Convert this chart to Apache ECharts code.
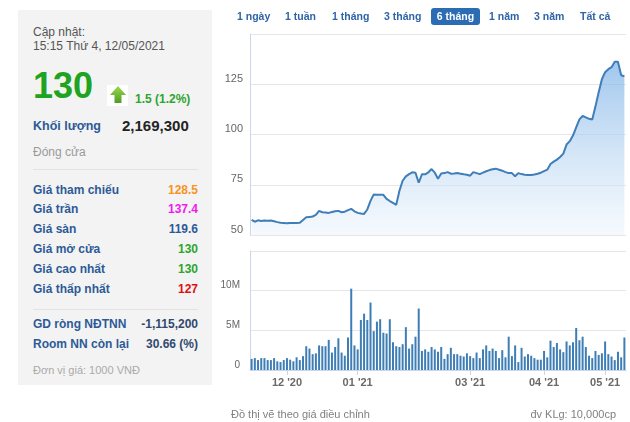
<!DOCTYPE html>
<html><head><meta charset="utf-8">
<script src="https://cdn.jsdelivr.net/npm/echarts@6/dist/echarts.min.js"></script>
<style>
body{margin:0;width:630px;height:422px;position:relative;background:#fff;font-family:Arial,"Liberation Sans",sans-serif;overflow:hidden}
#chart{position:absolute;left:0;top:0;width:630px;height:422px}
.t{position:absolute;white-space:nowrap;line-height:1}
.panel{position:absolute;left:18px;top:10px;width:194px;height:375px;background:#f3f3f3}
.lbl{position:absolute;left:33px;white-space:nowrap;line-height:1;font-size:12px;font-weight:bold;color:#2d5a97}
.val{position:absolute;right:432px;white-space:nowrap;line-height:1;font-size:12px;font-weight:bold;text-align:right}
.hr{position:absolute;left:33px;width:165px;height:1px;background:#e2e2e2}
.btn{position:absolute;top:11px;font-size:10.5px;font-weight:bold;color:#2f64a6;line-height:1;white-space:nowrap}
</style></head>
<body>
<div id="chart"></div>
<div class="panel"></div>
<div class="t" style="left:33px;top:26px;font-size:12px;color:#555">Cập nhật:</div>
<div class="t" style="left:33px;top:40px;font-size:12px;color:#555">15:15 Thứ 4, 12/05/2021</div>
<div class="t" style="left:33px;top:68px;font-size:36px;font-weight:bold;color:#20a320">130</div>
<svg style="position:absolute;left:107px;top:85px" width="21" height="21">
<defs><linearGradient id="ga" x1="0" y1="0" x2="0" y2="1"><stop offset="0" stop-color="#9bd84f"/><stop offset="1" stop-color="#519c24"/></linearGradient></defs>
<rect width="21" height="21" fill="#fff"/>
<polygon points="11,1 19,10 14.5,10 14.5,18 7.5,18 7.5,10 3,10" fill="url(#ga)"/>
</svg>
<div class="t" style="left:135px;top:93px;font-size:12px;font-weight:bold;color:#2ea52e">1.5 (1.2%)</div>
<div class="t" style="left:33px;top:120px;font-size:12.5px;font-weight:bold;color:#2d5a97">Khối lượng</div>
<div class="t" style="left:122px;top:118px;font-size:15px;font-weight:bold;color:#222">2,169,300</div>
<div class="t" style="left:33px;top:146px;font-size:12px;color:#9a9a9a">Đóng cửa</div>
<div class="hr" style="top:169px"></div>
<div class="lbl" style="top:184px">Giá tham chiếu</div><div class="val" style="top:184px;color:#f7941d">128.5</div>
<div class="lbl" style="top:203px">Giá trần</div><div class="val" style="top:203px;color:#f01af0">137.4</div>
<div class="lbl" style="top:223px">Giá sàn</div><div class="val" style="top:223px;color:#2d5a97">119.6</div>
<div class="lbl" style="top:243px">Giá mở cửa</div><div class="val" style="top:243px;color:#2ea52e">130</div>
<div class="lbl" style="top:263px">Giá cao nhất</div><div class="val" style="top:263px;color:#2ea52e">130</div>
<div class="lbl" style="top:283px">Giá thấp nhất</div><div class="val" style="top:283px;color:#dd1111">127</div>
<div class="hr" style="top:309px"></div>
<div class="lbl" style="top:318px">GD ròng NĐTNN</div><div class="val" style="top:318px;color:#2f4a6e">-1,115,200</div>
<div class="lbl" style="top:338px">Room NN còn lại</div><div class="val" style="top:338px;color:#2f4a6e">30.66 (%)</div>
<div class="t" style="left:33px;top:365px;font-size:11px;color:#aaa">Đơn vị giá: 1000 VNĐ</div>

<div class="btn" style="left:237px">1 ngày</div>
<div class="btn" style="left:285px">1 tuần</div>
<div class="btn" style="left:332px">1 tháng</div>
<div class="btn" style="left:384px">3 tháng</div>
<div style="position:absolute;left:431px;top:8px;width:49px;height:17px;background:#2b6cb2;border-radius:3px"></div>
<div class="btn" style="left:431px;width:49px;text-align:center;color:#fff">6 tháng</div>
<div class="btn" style="left:489px">1 năm</div>
<div class="btn" style="left:534px">3 năm</div>
<div class="btn" style="left:580px">Tất cả</div>

<div class="t" style="left:231px;top:409px;font-size:11px;color:#808080">Đồ thị vẽ theo giá điều chỉnh</div>
<div class="t" style="right:14px;top:409px;font-size:11px;color:#808080">đv KLg: 10,000cp</div>

<script>
const sessionDates = [
"18/11/20","19/11/20","20/11/20","23/11/20","24/11/20","25/11/20","26/11/20","27/11/20","30/11/20",
"01/12/20","02/12/20","03/12/20","04/12/20","07/12/20","08/12/20","09/12/20","10/12/20","11/12/20","14/12/20","15/12/20","16/12/20","17/12/20","18/12/20","21/12/20","22/12/20","23/12/20","24/12/20","25/12/20","28/12/20","29/12/20","30/12/20","31/12/20",
"04/01/21","05/01/21","06/01/21","07/01/21","08/01/21","11/01/21","12/01/21","13/01/21","14/01/21","15/01/21","18/01/21","19/01/21","20/01/21","21/01/21","22/01/21","25/01/21","26/01/21","27/01/21","28/01/21","29/01/21",
"01/02/21","02/02/21","03/02/21","04/02/21","05/02/21","08/02/21","09/02/21","17/02/21","18/02/21","19/02/21","22/02/21","23/02/21","24/02/21","25/02/21","26/02/21",
"01/03/21","02/03/21","03/03/21","04/03/21","05/03/21","08/03/21","09/03/21","10/03/21","11/03/21","12/03/21","15/03/21","16/03/21","17/03/21","18/03/21","19/03/21","22/03/21","23/03/21","24/03/21","25/03/21","26/03/21","29/03/21","30/03/21","31/03/21",
"01/04/21","02/04/21","05/04/21","06/04/21","07/04/21","08/04/21","09/04/21","12/04/21","13/04/21","14/04/21","15/04/21","16/04/21","19/04/21","20/04/21","22/04/21","23/04/21","26/04/21","27/04/21","28/04/21","29/04/21",
"04/05/21","05/05/21","06/05/21","07/05/21","10/05/21","11/05/21","12/05/21"
];
const closePrice = [
57.5,56.6,57.3,57.0,57.2,57.1,57.2,56.8,56.4,56.1,
56.0,55.9,56.0,56.0,56.0,56.1,57.5,58.8,59.0,59.2,
60.0,62.0,61.3,61.2,61.0,61.4,61.8,62.0,61.3,61.6,
62.4,63.0,61.8,61.0,60.7,60.5,62.7,67.0,70.2,70.0,
70.0,70.0,68.0,66.9,66.0,65.0,72.0,77.0,79.2,80.3,
81.2,81.0,76.0,80.2,80.2,81.2,82.8,81.0,78.0,80.6,
80.8,81.3,80.5,80.6,80.8,80.5,80.2,80.0,79.5,81.3,
80.8,80.3,81.0,81.7,82.3,82.7,83.0,82.5,82.0,81.3,
80.8,80.8,79.2,80.8,80.3,80.0,79.9,79.8,80.1,80.5,
81.0,81.8,82.5,85.3,86.5,87.5,88.8,90.5,95.0,96.7,
99.5,103.5,107.5,109.2,108.5,107.8,107.5,114.0,121.0,127.5,
131.0,132.5,133.5,136.2,136.2,129.5,129.0
];
const volumeM = [
1.4,1.5,1.25,1.5,1.5,1.25,1.25,1.5,1.1,1.0,
1.25,1.5,1.3,1.1,1.6,1.25,1.75,3.0,2.7,2.0,
2.1,3.1,3.0,3.0,3.8,2.2,2.9,4.0,2.2,1.8,
4.1,10.25,3.1,2.6,6.3,7.1,6.3,8.5,4.9,6.1,
6.4,4.7,4.6,6.4,3.5,3.0,2.9,3.25,5.4,2.7,
3.25,4.2,7.75,2.4,2.6,2.3,2.9,2.6,2.3,2.9,
1.4,2.0,2.8,2.0,2.0,1.8,1.7,2.1,1.75,1.5,
2.2,1.5,2.6,3.1,2.4,2.7,2.4,1.5,2.5,1.6,
4.2,1.75,3.1,1.0,2.8,1.7,2.0,1.8,1.5,1.3,
1.3,2.4,1.6,3.7,2.9,3.4,2.6,2.25,3.6,3.1,
3.5,5.3,3.75,4.2,2.9,1.8,1.5,2.4,1.9,2.1,
3.6,2.0,1.7,1.25,2.3,1.6,4.1
];
const monthTickIdx = [11, 33, 68, 91, 110];
const monthTickLabels = ["12 '20", "01 '21", "03 '21", "04 '21", "05 '21"];
const priceTicks = [50, 75, 100, 125];
const volumeTicks = ["0", "5M", "10M"];

const chart = echarts.init(document.getElementById('chart'));
const isTick = (i) => monthTickIdx.indexOf(i) >= 0;
const axisCol = '#ccd6eb', gridCol = '#e6e6e6';
chart.setOption({
  animation: false,
  grid: [
    {left: 250, top: 34, width: 376, height: 201},
    {left: 250, top: 251, width: 376, height: 119}
  ],
  xAxis: [
    {type: 'category', gridIndex: 0, data: sessionDates, boundaryGap: true,
     axisLine: {show: false}, axisTick: {show: false}, axisLabel: {show: false}, splitLine: {show: false}},
    {type: 'category', gridIndex: 1, data: sessionDates, boundaryGap: true,
     axisLine: {show: true, lineStyle: {color: axisCol}},
     axisTick: {show: true, alignWithLabel: true, interval: isTick, length: 5, lineStyle: {color: axisCol}},
     axisLabel: {interval: isTick, formatter: (v, i) => { const k = monthTickIdx.indexOf(i); return k >= 0 ? monthTickLabels[k] : ''; },
       color: '#6a6a6a', fontSize: 11, fontWeight: 'bold', margin: 7, fontFamily: 'Arial, Liberation Sans'}}
  ],
  yAxis: [
    {type: 'value', gridIndex: 0, min: 50, max: 150, interval: 25,
     axisLine: {show: true, lineStyle: {color: axisCol}}, axisTick: {show: false},
     splitLine: {lineStyle: {color: gridCol}},
     axisLabel: {formatter: v => priceTicks.indexOf(v) >= 0 ? String(v) : '', color: '#666', fontSize: 11, margin: 7,
       verticalAlign: 'bottom', fontFamily: 'Arial, Liberation Sans'}},
    {type: 'value', gridIndex: 1, min: 0, max: 15, interval: 5,
     axisLine: {show: true, lineStyle: {color: axisCol}}, axisTick: {show: false},
     splitLine: {lineStyle: {color: gridCol}},
     axisLabel: {formatter: v => volumeTicks[v / 5] || '', color: '#666', fontSize: 10, margin: 10,
       verticalAlign: 'bottom', fontFamily: 'Arial, Liberation Sans'}}
  ],
  series: [
    {type: 'line', xAxisIndex: 0, yAxisIndex: 0, data: closePrice, symbol: 'none',
     lineStyle: {color: '#3f7eb8', width: 2},
     areaStyle: {origin: 'start', color: new echarts.graphic.LinearGradient(0, 0, 0, 1, [
       {offset: 0, color: '#78afe6'}, {offset: 1, color: 'rgba(236,244,252,0.7)'}])}},
    {type: 'bar', xAxisIndex: 1, yAxisIndex: 1, data: volumeM, barWidth: 2,
     itemStyle: {color: '#3e7eb5'}}
  ]
});
</script>
</body></html>
